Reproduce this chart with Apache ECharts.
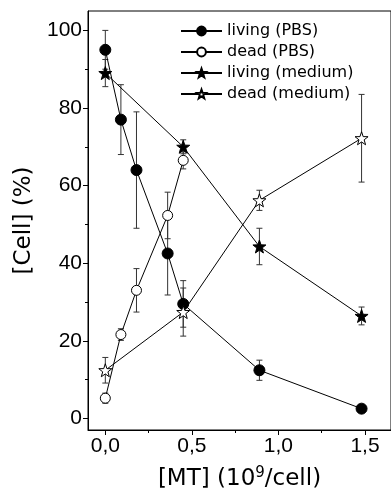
<!DOCTYPE html>
<html>
<head>
<meta charset="utf-8">
<script src="https://cdn.jsdelivr.net/npm/echarts@6/dist/echarts.min.js"></script>
<style>
  html, body { margin: 0; padding: 0; background: #fff; }
  #main { width: 391px; height: 496px; }
</style>
</head>
<body>
<div id="main"></div>
<script>
// x positions, 10^9 MT per cell
var xPBS = [0, 0.09, 0.18, 0.36, 0.45, 0.89, 1.48];
var xDeadPBS = [0, 0.09, 0.18, 0.36, 0.45];
var xMedium = [0, 0.45, 0.89, 1.48];

// % cells, with error bar half-widths
var livingPBS = [95, 77, 64, 42.5, 29.5, 12.4, 2.5];
var livingPBSErr = [5, 9, 15, 10.7, 6, 2.6, 0.6];
var deadPBS = [5.2, 21.6, 33, 52.3, 66.5];
var deadPBSErr = [1.3, 1.5, 5.6, 6, 2.2];
var livingMedium = [89, 70, 44.3, 26.4];
var livingMediumErr = [3.5, 1.8, 4.7, 2.3];
var deadMedium = [12.4, 27.4, 56.2, 72.2];
var deadMediumErr = [3.3, 6.2, 2.6, 11.3];

var xTicks = [0, 0.5, 1, 1.5];
var xMinorTicks = [0.25, 0.75, 1.25];
var yTicks = [0, 20, 40, 60, 80, 100];
var yMinorTicks = [10, 30, 50, 70, 90];

var star = 'path://M0,-10L2.35,-3.24L9.51,-3.09L3.8,1.24L5.88,8.09L0,4.2L-5.88,8.09L-3.8,1.24L-9.51,-3.09L-2.35,-3.24Z';

function pairs(xs, ys) {
  return xs.map(function (x, i) { return [x, ys[i]]; });
}

function errSeries(xs, ys, errs) {
  return {
    type: 'custom',
    silent: true,
    z: 1,
    data: xs.map(function (x, i) { return [x, ys[i], errs[i]]; }),
    renderItem: function (params, api) {
      var x = api.value(0), y = api.value(1), e = api.value(2);
      var top = api.coord([x, y + e]);
      var bot = api.coord([x, y - e]);
      var st = { stroke: '#333', lineWidth: 1 };
      return {
        type: 'group',
        children: [
          { type: 'line', shape: { x1: top[0], y1: top[1], x2: bot[0], y2: bot[1] }, style: st },
          { type: 'line', shape: { x1: top[0] - 3, y1: top[1], x2: top[0] + 3, y2: top[1] }, style: st },
          { type: 'line', shape: { x1: bot[0] - 3, y1: bot[1], x2: bot[0] + 3, y2: bot[1] }, style: st }
        ]
      };
    }
  };
}

function lineSeries(name, xs, ys, symbol, size, filled) {
  return {
    name: name,
    type: 'line',
    z: 3,
    data: pairs(xs, ys),
    symbol: symbol,
    symbolSize: size,
    showAllSymbol: true,
    lineStyle: { color: '#000', width: 1 },
    itemStyle: { color: filled ? '#000' : '#fff', borderColor: '#000', borderWidth: 1 }
  };
}

var fmt = function (v) { return v.toFixed(1).replace('.', ','); };

var chart = echarts.init(document.getElementById('main'));
chart.setOption({
  animation: false,
  backgroundColor: '#fff',
  grid: {
    left: 88, top: 11, width: 313, height: 419,
    show: true, borderColor: '#000', borderWidth: 1
  },
  legend: {
    left: 175, top: 18,
    orient: 'vertical',
    itemWidth: 41, itemHeight: 11, itemGap: 5,
    textStyle: { fontFamily: 'DejaVu Sans', fontSize: 16, color: '#000' },
    data: ['living (PBS)', 'dead (PBS)', 'living (medium)', 'dead (medium)']
  },
  xAxis: [{
    type: 'value', min: -0.1, max: 1.65,
    splitLine: { show: false },
    axisLine: { onZero: false, lineStyle: { color: '#000', width: 1 } },
    axisTick: { inside: false, customValues: xTicks, length: 5, lineStyle: { color: '#000' } },
    axisLabel: {
      customValues: xTicks, formatter: fmt, margin: 6,
      fontFamily: 'Liberation Sans', fontSize: 21, color: '#000'
    },
    name: '[MT] (10{sup|9}/cell)',
    nameLocation: 'middle', nameGap: 36,
    nameTextStyle: {
      fontFamily: 'DejaVu Sans', fontSize: 23, color: '#000',
      rich: { sup: { fontFamily: 'DejaVu Sans', fontSize: 15, color: '#000', padding: [0, 0, 12, 0] } }
    }
  }, {
    type: 'value', min: -0.1, max: 1.65, gridIndex: 0, position: 'bottom',
    splitLine: { show: false },
    axisLine: { show: false, onZero: false },
    axisTick: { inside: false, customValues: xMinorTicks, length: 3, lineStyle: { color: '#000' } },
    axisLabel: { show: false }
  }],
  yAxis: [{
    type: 'value', min: -3, max: 105,
    splitLine: { show: false },
    axisLine: { show: true, onZero: false, lineStyle: { color: '#000', width: 1 } },
    axisTick: { show: true, inside: false, customValues: yTicks, length: 5, lineStyle: { color: '#000' } },
    axisLabel: {
      customValues: yTicks, margin: 6,
      fontFamily: 'Liberation Sans', fontSize: 21, color: '#000'
    },
    name: '[Cell] (%)',
    nameLocation: 'middle', nameGap: 52,
    nameTextStyle: { fontFamily: 'DejaVu Sans', fontSize: 23, color: '#000' }
  }, {
    type: 'value', min: -3, max: 105, position: 'left',
    splitLine: { show: false },
    axisLine: { show: false, onZero: false },
    axisTick: { show: true, inside: false, customValues: yMinorTicks, length: 3, lineStyle: { color: '#000' } },
    axisLabel: { show: false }
  }],
  series: [
    errSeries(xPBS, livingPBS, livingPBSErr),
    errSeries(xDeadPBS, deadPBS, deadPBSErr),
    errSeries(xMedium, livingMedium, livingMediumErr),
    errSeries(xMedium, deadMedium, deadMediumErr),
    lineSeries('living (PBS)', xPBS, livingPBS, 'circle', 11, true),
    lineSeries('dead (PBS)', xDeadPBS, deadPBS, 'circle', 10, false),
    lineSeries('living (medium)', xMedium, livingMedium, star, 13, true),
    lineSeries('dead (medium)', xMedium, deadMedium, star, 13, false)
  ]
});
</script>
</body>
</html>
